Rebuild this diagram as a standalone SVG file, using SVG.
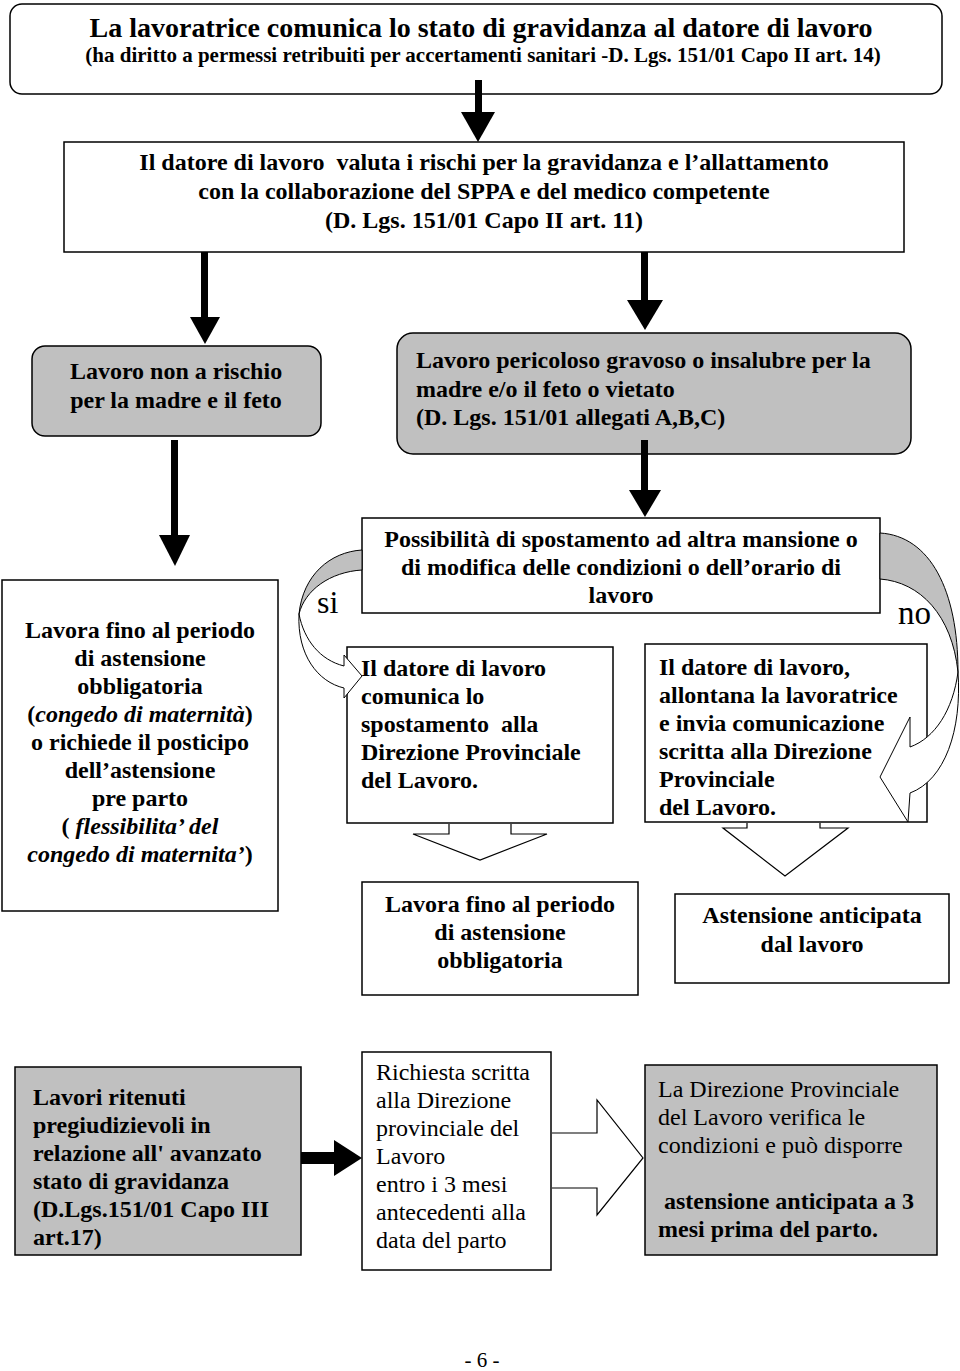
<svg xmlns="http://www.w3.org/2000/svg" width="960" height="1371" viewBox="0 0 960 1371">
<style>
.box{fill:#fff;stroke:#000;stroke-width:1.5}
.gray{fill:#c0c0c0;stroke:#000;stroke-width:1.5}
.t{font-family:"Liberation Serif","Times New Roman",serif;font-size:24px;fill:#000}
.b{font-weight:bold}
.c{text-anchor:middle}
.i{font-style:italic}
.pre{white-space:pre}
.hollow{fill:#fff;stroke:#000;stroke-width:1.2;stroke-linejoin:miter}
.solid{fill:#000;stroke:none}
</style>
<rect width="960" height="1371" fill="#fff"/>

<g id="n1">
<rect class="box" x="10" y="4" width="932" height="90" rx="12"/>
<text class="t b c" x="481" y="37" style="font-size:28px">La lavoratrice comunica lo stato di gravidanza al datore di lavoro</text>
<text class="t b c" x="483" y="62" style="font-size:21px">(ha diritto a permessi retribuiti per accertamenti sanitari -D. Lgs. 151/01 Capo II art. 14)</text>
</g>

<g id="n2">
<rect class="box" x="64" y="142" width="840" height="110"/>
<text class="t b c pre" x="484" y="170">Il datore di lavoro  valuta i rischi per la gravidanza e l’allattamento</text>
<text class="t b c" x="484" y="199">con la collaborazione del SPPA e del medico competente</text>
<text class="t b c" x="484" y="228">(D. Lgs. 151/01 Capo II art. 11)</text>
</g>

<g id="n3">
<rect class="gray" x="32" y="346" width="289" height="90" rx="13"/>
<text class="t b c" x="176" y="379">Lavoro non a rischio</text>
<text class="t b c" x="176" y="408">per la madre e il feto</text>
</g>

<g id="n4">
<rect class="gray" x="397" y="333" width="514" height="121" rx="16"/>
<text class="t b" x="416" y="368">Lavoro pericoloso gravoso o insalubre per la</text>
<text class="t b" x="416" y="397">madre e/o il feto o vietato</text>
<text class="t b" x="416" y="425">(D. Lgs. 151/01 allegati A,B,C)</text>
</g>

<g id="n5">
<rect class="box" x="2" y="580" width="276" height="331"/>
<text class="t b c" x="140" y="638">Lavora fino al periodo</text>
<text class="t b c" x="140" y="666">di astensione</text>
<text class="t b c" x="140" y="694">obbligatoria</text>
<text class="t b c" x="140" y="722">(<tspan class="i">congedo di maternità</tspan>)</text>
<text class="t b c" x="140" y="750">o richiede il posticipo</text>
<text class="t b c" x="140" y="778">dell’astensione</text>
<text class="t b c" x="140" y="806">pre parto</text>
<text class="t b c" x="140" y="834">(<tspan class="i"> flessibilita’ del</tspan></text>
<text class="t b c" x="140" y="862"><tspan class="i">congedo di maternita’</tspan>)</text>
</g>

<g id="n6">
<rect class="box" x="362" y="518" width="518" height="95"/>
<text class="t b c" x="621" y="547">Possibilità di spostamento ad altra mansione o</text>
<text class="t b c" x="621" y="575">di modifica delle condizioni o dell’orario di</text>
<text class="t b c" x="621" y="603">lavoro</text>
</g>

<g id="n7">
<rect class="box" x="347" y="647" width="266" height="176"/>
<text class="t b" x="361" y="676">Il datore di lavoro</text>
<text class="t b" x="361" y="704">comunica lo</text>
<text class="t b pre" x="361" y="732">spostamento  alla</text>
<text class="t b" x="361" y="760">Direzione Provinciale</text>
<text class="t b" x="361" y="788">del Lavoro.</text>
</g>

<g id="n8">
<rect class="box" x="645" y="644" width="282" height="178"/>
<text class="t b" x="659" y="675">Il datore di lavoro,</text>
<text class="t b" x="659" y="703">allontana la lavoratrice</text>
<text class="t b" x="659" y="731">e invia comunicazione</text>
<text class="t b" x="659" y="759">scritta alla Direzione</text>
<text class="t b" x="659" y="787">Provinciale</text>
<text class="t b" x="659" y="815">del Lavoro.</text>
</g>

<g id="n9">
<rect class="box" x="362" y="882" width="276" height="113"/>
<text class="t b c" x="500" y="912">Lavora fino al periodo</text>
<text class="t b c" x="500" y="940">di astensione</text>
<text class="t b c" x="500" y="968">obbligatoria</text>
</g>

<g id="n10">
<rect class="box" x="675" y="894" width="274" height="89"/>
<text class="t b c" x="812" y="923">Astensione anticipata</text>
<text class="t b c" x="812" y="952">dal lavoro</text>
</g>

<g id="n11">
<rect class="gray" x="15" y="1067" width="286" height="188"/>
<text class="t b" x="33" y="1105">Lavori ritenuti</text>
<text class="t b" x="33" y="1133">pregiudizievoli in</text>
<text class="t b" x="33" y="1161">relazione all' avanzato</text>
<text class="t b" x="33" y="1189">stato di gravidanza</text>
<text class="t b" x="33" y="1217">(D.Lgs.151/01 Capo III</text>
<text class="t b" x="33" y="1245">art.17)</text>
</g>

<g id="n12">
<rect class="box" x="362" y="1052" width="189" height="218"/>
<text class="t" x="376" y="1080">Richiesta scritta</text>
<text class="t" x="376" y="1108">alla Direzione</text>
<text class="t" x="376" y="1136">provinciale del</text>
<text class="t" x="376" y="1164">Lavoro</text>
<text class="t" x="376" y="1192">entro i 3 mesi</text>
<text class="t" x="376" y="1220">antecedenti alla</text>
<text class="t" x="376" y="1248">data del parto</text>
</g>

<g id="n13">
<rect class="gray" x="645" y="1065" width="292" height="190"/>
<text class="t" x="658" y="1097">La Direzione Provinciale</text>
<text class="t" x="658" y="1125">del Lavoro verifica le</text>
<text class="t" x="658" y="1153">condizioni e può disporre</text>
<text class="t b pre" x="658" y="1209"> astensione anticipata a 3</text>
<text class="t b" x="658" y="1237">mesi prima del parto.</text>
</g>

<g id="connectors">
<rect class="solid" x="475" y="80" width="7" height="33"/>
<polygon class="solid" points="461,112 495,112 478,142"/>
<rect class="solid" x="201" y="252" width="7" height="66"/>
<polygon class="solid" points="190,317 220,317 205,344"/>
<rect class="solid" x="641" y="252" width="7" height="49"/>
<polygon class="solid" points="627,300 663,300 645,330"/>
<rect class="solid" x="171" y="440" width="7" height="96"/>
<polygon class="solid" points="159,535 190,535 175,566"/>
<rect class="solid" x="641" y="440" width="7" height="51"/>
<polygon class="solid" points="629,490 661,490 645,517"/>

<path fill="#c0c0c0" stroke="#000" stroke-width="1" d="M362,550 C330,552 303,575 299,614 C305,590 330,572 362,570 Z"/>
<path fill="#fff" stroke="#000" stroke-width="1" d="M299,614 C304,640 320,660 344,666 L344,655 L362,676 L344,698 L344,688 C318,682 297,655 299,614 Z"/>
<text class="t" x="317" y="613" style="font-size:32px">si</text>

<path fill="#c0c0c0" stroke="#000" stroke-width="1" d="M880,533 C930,536 958,590 958,672 C952,615 920,582 880,579 Z"/>
<path fill="#fff" stroke="#000" stroke-width="1" d="M958,672 C953,710 935,738 910,747 L910,717 L880,777 L908,822 L910,793 C945,780 962,730 958,672 Z"/>
<text class="t" x="898" y="624" style="font-size:33px">no</text>

<path class="hollow" d="M449,824 L449,834 L413,834 L480,860 L547,834 L511,834 L511,824"/>
<path class="hollow" d="M747,823 L747,828 L723,828 L785,876 L848,828 L820,828 L820,823"/>

<rect class="solid" x="301" y="1152" width="35" height="12"/>
<polygon class="solid" points="334,1140 362,1158 334,1176"/>
<path class="hollow" d="M552,1133 L597,1133 L597,1100 L643,1158 L597,1215 L597,1188 L552,1188"/>
</g>

<text class="t c" x="482" y="1367" style="font-size:21px">- 6 -</text>
</svg>
